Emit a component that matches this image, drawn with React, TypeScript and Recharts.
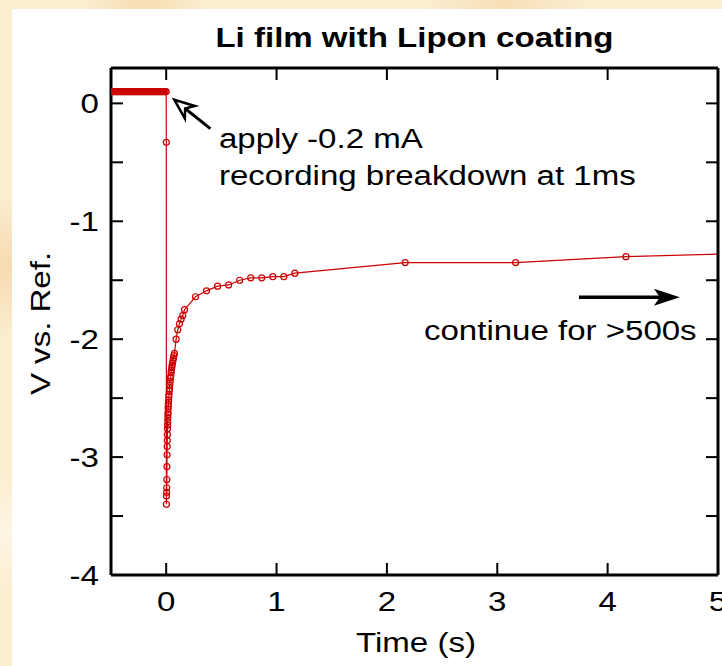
import React from "react";
import { ComposedChart, Line, XAxis, YAxis, ReferenceLine } from "recharts";

// Potential record of the Li film: flat before the pulse, the 1 ms breakdown
// spike, then the slow recovery.
const baselineTime = [
  -0.5, -0.49, -0.48, -0.47, -0.46, -0.45, -0.44, -0.43, -0.42, -0.41,
  -0.4, -0.39, -0.38, -0.37, -0.36, -0.35, -0.34, -0.33, -0.32, -0.31,
  -0.3, -0.29, -0.28, -0.27, -0.26, -0.25, -0.24, -0.23, -0.22, -0.21,
  -0.2, -0.19, -0.18, -0.17, -0.16, -0.15, -0.14, -0.13, -0.12, -0.11,
  -0.1, -0.09, -0.08, -0.07, -0.06, -0.05, -0.04, -0.03, -0.02, -0.01,
  0.0,
];
const baselineVolt = [
  0.1, 0.1, 0.1, 0.1, 0.1, 0.1, 0.1, 0.1, 0.1, 0.1,
  0.1, 0.1, 0.1, 0.1, 0.1, 0.1, 0.1, 0.1, 0.1, 0.1,
  0.1, 0.1, 0.1, 0.1, 0.1, 0.1, 0.1, 0.1, 0.1, 0.1,
  0.1, 0.1, 0.1, 0.1, 0.1, 0.1, 0.1, 0.1, 0.1, 0.1,
  0.1, 0.1, 0.1, 0.1, 0.1, 0.1, 0.1, 0.1, 0.1, 0.1,
  0.1,
];

const pulseTime = [0.001];
const pulseVolt = [-0.33];

const recoveryTime = [
  0.002, 0.003, 0.004, 0.005, 0.006, 0.007, 0.008, 0.009, 0.01, 0.011,
  0.012, 0.013, 0.014, 0.015, 0.016, 0.017, 0.018, 0.019, 0.02, 0.022,
  0.024, 0.026, 0.028, 0.03, 0.033, 0.036, 0.039, 0.042, 0.045, 0.048,
  0.051, 0.054, 0.058, 0.062, 0.066, 0.07, 0.075, 0.09, 0.105, 0.12,
  0.135, 0.15, 0.166, 0.266, 0.366, 0.466, 0.566, 0.666, 0.766, 0.866,
  0.966, 1.066, 1.166, 2.166, 3.166, 4.166, 5.166,
];
const recoveryVolt = [
  -3.4, -3.33, -3.3, -3.26, -3.19, -3.08, -2.98, -2.91, -2.86, -2.81,
  -2.76, -2.73, -2.7, -2.67, -2.64, -2.62, -2.59, -2.57, -2.55, -2.52,
  -2.49, -2.47, -2.44, -2.42, -2.39, -2.36, -2.33, -2.31, -2.28, -2.26,
  -2.24, -2.22, -2.2, -2.18, -2.16, -2.14, -2.12, -2.0, -1.92, -1.87,
  -1.83, -1.8, -1.75, -1.64, -1.59, -1.55, -1.54, -1.5, -1.48, -1.48,
  -1.47, -1.47, -1.44, -1.35, -1.35, -1.3, -1.275,
];

const xTicks = [0, 1, 2, 3, 4, 5];
const yTicks = [-4, -3.5, -3, -2.5, -2, -1.5, -1, -0.5, 0];

const time = [...baselineTime, ...pulseTime, ...recoveryTime];
const volt = [...baselineVolt, ...pulseVolt, ...recoveryVolt];
const data = time.map((t, i) => ({ t, v: volt[i] }));

const FONT = "'Liberation Sans', Arial, Helvetica, sans-serif";
const RED = "#cc0000";
const WIDE = 1.18; // the original lettering is wider than Arial

const wide = (x: number) => `translate(${x} 0) scale(${WIDE} 1) translate(${-x} 0)`;

const axisLine = { stroke: "#000", strokeWidth: 3 };
const tickLine = { stroke: "#000", strokeWidth: 2 };

function BottomTick(p: any) {
  return (
    <text x={p.x} y={p.y + 20} textAnchor="middle" fontSize={28} fontFamily={FONT} fill="#000" transform={wide(p.x)}>
      {p.payload.value}
    </text>
  );
}

function LeftTick(p: any) {
  if (!Number.isInteger(p.payload.value)) return <g />;
  return (
    <text x={p.x} y={p.y + 10} textAnchor="end" fontSize={28} fontFamily={FONT} fill="#000" transform={wide(p.x)}>
      {p.payload.value}
    </text>
  );
}

// mirror axes: tick marks only, no labels
const NoLabel = () => <g />;

function unit(p: any) {
  const dx = p.x2 - p.x1;
  const dy = p.y2 - p.y1;
  const len = Math.hypot(dx, dy) || 1;
  return { ux: dx / len, uy: dy / len };
}

// hollow notched head, used for the "apply" arrow
function openArrow(p: any) {
  const { ux, uy } = unit(p);
  const nx = -uy, ny = ux;
  const bx = p.x2 - ux * 20, by = p.y2 - uy * 20;
  const mx = p.x2 - ux * 14, my = p.y2 - uy * 14;
  const d = `M${p.x2},${p.y2} L${bx + nx * 8},${by + ny * 8} L${mx},${my} L${bx - nx * 8},${by - ny * 8} Z`;
  return (
    <g>
      <line x1={p.x1} y1={p.y1} x2={mx} y2={my} stroke="#000" strokeWidth={3} />
      <path d={d} fill="#fff" stroke="#000" strokeWidth={2.5} strokeLinejoin="miter" />
    </g>
  );
}

// filled dart head, used for the "continue" arrow
function solidArrow(p: any) {
  const { ux, uy } = unit(p);
  const nx = -uy, ny = ux;
  const bx = p.x2 - ux * 26, by = p.y2 - uy * 26;
  const mx = p.x2 - ux * 20, my = p.y2 - uy * 20;
  const d = `M${p.x2},${p.y2} L${bx + nx * 8.5},${by + ny * 8.5} L${mx},${my} L${bx - nx * 8.5},${by - ny * 8.5} Z`;
  return (
    <g>
      <line x1={p.x1} y1={p.y1} x2={mx + ux} y2={my + uy} stroke="#000" strokeWidth={3.5} />
      <path d={d} fill="#000" />
    </g>
  );
}

const applyArrow = [{ x: 0.4, y: -0.214 }, { x: 0.073, y: 0.031 }];
const continueArrow = [{ x: 3.74, y: -1.644 }, { x: 4.655, y: -1.644 }];

export default function App() {
  return (
    <div
      style={{
        position: "absolute",
        left: 0,
        top: 0,
        width: 722,
        height: 666,
        overflow: "hidden",
        background:
          "radial-gradient(circle at 20% 2%, #f6dcae 0, rgba(246,220,174,0) 60px)," +
          "radial-gradient(circle at 70% 1%, #f7dfb6 0, rgba(247,223,182,0) 80px)," +
          "radial-gradient(circle at 1% 40%, #f5dbb0 0, rgba(245,219,176,0) 70px)," +
          "radial-gradient(circle at 1% 80%, #fdf6e4 0, rgba(253,246,228,0) 60px)," +
          "#fbedd0",
      }}
    >
      <div style={{ position: "absolute", left: 12, top: 9, width: 710, height: 657, background: "#fff" }} />
      <div style={{ position: "absolute", left: 0, top: 0 }}>
        <ComposedChart width={722} height={666} data={data} margin={{ top: 60, right: 0, bottom: 51, left: 51 }}>
          <XAxis
            xAxisId="b"
            dataKey="t"
            type="number"
            domain={[-0.5, 5]}
            allowDataOverflow
            ticks={xTicks}
            interval={0}
            height={40}
            tickSize={-12}
            tickMargin={28}
            axisLine={axisLine}
            tickLine={tickLine}
            tick={BottomTick}
          />
          <XAxis
            xAxisId="t"
            dataKey="t"
            orientation="top"
            type="number"
            domain={[-0.5, 5]}
            allowDataOverflow
            ticks={xTicks}
            interval={0}
            height={8}
            tickSize={-12}
            axisLine={axisLine}
            tickLine={tickLine}
            tick={NoLabel}
          />
          <YAxis
            yAxisId="l"
            type="number"
            domain={[-4, 0.3]}
            allowDataOverflow
            ticks={yTicks}
            interval={0}
            width={60}
            tickSize={-12}
            tickMargin={24}
            axisLine={axisLine}
            tickLine={tickLine}
            tick={LeftTick}
          />
          <YAxis
            yAxisId="r"
            orientation="right"
            type="number"
            domain={[-4, 0.3]}
            allowDataOverflow
            ticks={yTicks}
            interval={0}
            width={4}
            tickSize={-12}
            axisLine={axisLine}
            tickLine={tickLine}
            tick={NoLabel}
          />
          <Line
            xAxisId="b"
            yAxisId="l"
            dataKey="v"
            type="linear"
            stroke={RED}
            strokeWidth={1.2}
            dot={{ r: 3, stroke: RED, strokeWidth: 1.2, fill: "none" }}
            activeDot={false}
            isAnimationActive={false}
          />
          <ReferenceLine xAxisId="b" yAxisId="l" segment={applyArrow} shape={openArrow} ifOverflow="visible" />
          <ReferenceLine xAxisId="b" yAxisId="l" segment={continueArrow} shape={solidArrow} ifOverflow="visible" />
        </ComposedChart>
      </div>
      <svg width={722} height={666} style={{ position: "absolute", left: 0, top: 0, pointerEvents: "none" }}>
        <g fontFamily={FONT} fill="#000" fontSize={28}>
          <text x={414.5} y={47} textAnchor="middle" fontWeight="bold" transform={wide(414.5)}>
            Li film with Lipon coating
          </text>
          <text x={219} y={148} transform={wide(219)}>apply -0.2 mA</text>
          <text x={219} y={185} transform={wide(219)}>recording breakdown at 1ms</text>
          <text x={424} y={340} transform={wide(424)}>continue for &gt;500s</text>
          <text x={416} y={652} textAnchor="middle" transform={wide(416)}>Time (s)</text>
          <text x={0} y={0} textAnchor="middle" transform={`translate(50 323.5) rotate(-90) scale(${WIDE} 1)`}>
            V vs. Ref.
          </text>
        </g>
      </svg>
    </div>
  );
}
